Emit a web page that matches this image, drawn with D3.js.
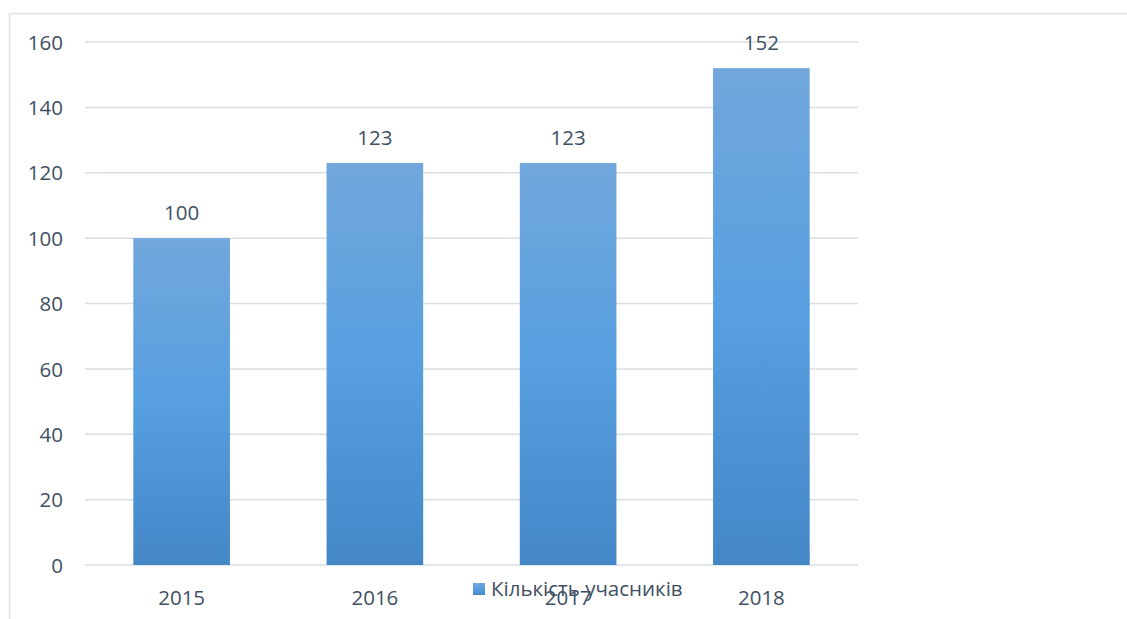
<!DOCTYPE html>
<html><head><meta charset="utf-8">
<script src="https://cdn.jsdelivr.net/npm/d3@7"></script>
<style>body{margin:0;background:#fff;}svg{display:block;}text{font-family:"Open Sans",sans-serif;fill:#404f63;}</style>
</head><body>
<script>
const categories = ["2015","2016","2017","2018"];
const values = [100,123,123,152];
const yTicks = [0,20,40,60,80,100,120,140,160];
const seriesName = "Кількість учасників";

const W=1127,H=619;
const FS=20.5;
const TC="#404f63";
const svg=d3.select("body").append("svg").attr("width",W).attr("height",H);
const defs=svg.append("defs");
const g=defs.append("linearGradient").attr("id","bg").attr("x1",0).attr("y1",0).attr("x2",0).attr("y2",1);
g.append("stop").attr("offset","0%").attr("stop-color","#71a7dc");
g.append("stop").attr("offset","50%").attr("stop-color","#579fe0");
g.append("stop").attr("offset","100%").attr("stop-color","#4387c6");

// chart border
svg.append("rect").attr("x",9.5).attr("y",13.5).attr("width",W).attr("height",H)
  .attr("fill","none").attr("stroke","#dde1e6").attr("stroke-width",1.5);

const x=d3.scaleBand().domain(categories).range([85,858]).paddingInner(0.5).paddingOuter(0.25);
const y=d3.scaleLinear().domain([0,160]).range([565,42]);

const grid=svg.append("g");
grid.selectAll("line").data(yTicks).join("line")
  .attr("x1",85).attr("x2",858).attr("y1",d=>y(d)).attr("y2",d=>y(d))
  .attr("stroke","#dadee3").attr("stroke-width",1.5);

const yAxis=svg.append("g").attr("transform","translate(63,0)")
  .call(d3.axisLeft(y).tickValues(yTicks).tickSize(0).tickPadding(0));
yAxis.select(".domain").remove();
yAxis.selectAll("text").attr("font-size",FS).attr("dy","0.35em").style("font-family","Open Sans").attr("fill",TC);

svg.selectAll("rect.bar").data(values).join("rect").attr("class","bar")
  .attr("x",(d,i)=>x(categories[i])).attr("width",x.bandwidth())
  .attr("y",d=>y(d)).attr("height",d=>y(0)-y(d)).attr("fill","url(#bg)");

svg.selectAll("text.val").data(values).join("text").attr("class","val")
  .attr("x",(d,i)=>x(categories[i])+x.bandwidth()/2).attr("y",d=>y(d)-18)
  .attr("text-anchor","middle").attr("font-size",FS).text(d=>d);

const xAxis=svg.append("g").attr("transform","translate(0,565)")
  .call(d3.axisBottom(x).tickSize(0).tickPadding(0));
xAxis.select(".domain").remove();
xAxis.selectAll("text").attr("y",40).attr("dy",0).attr("font-size",FS).style("font-family","Open Sans").attr("fill",TC);

// legend
const lg=svg.append("g");
lg.append("rect").attr("x",473).attr("y",583).attr("width",12).attr("height",12).attr("fill","url(#bg)");
lg.append("text").attr("x",491).attr("y",596).attr("font-size",FS).text(seriesName);
</script>
</body></html>
